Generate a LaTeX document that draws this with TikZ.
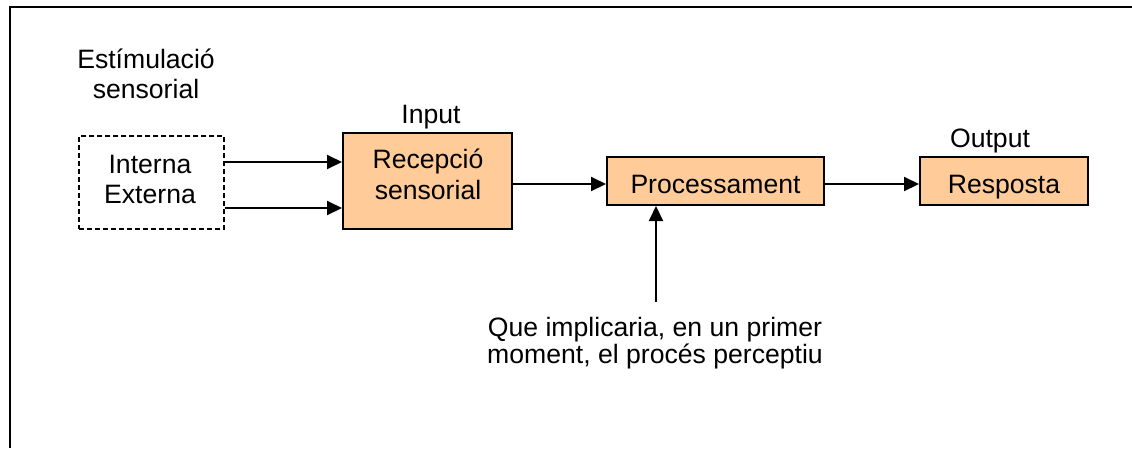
\documentclass[tikz,border=0pt]{standalone}
\usepackage{fontspec}
\setmainfont{Liberation Sans}
\usetikzlibrary{arrows.meta}
\definecolor{peach}{HTML}{FFCC99}
\begin{document}
\begin{tikzpicture}[x=1pt,y=-1pt,
  font=\fontsize{26.6}{30}\selectfont,
  stagebox/.style={draw=black, fill=peach, line width=2pt, inner sep=0pt, text height=24pt, text depth=0pt},
  sourcebox/.style={draw=black, line width=1.3pt, dash pattern=on 5pt off 3pt, inner sep=0pt},
  flow/.style={line width=2pt, -{Triangle[length=15pt,width=14pt]}},
  caption/.style={inner sep=0pt, anchor=base}]
  \useasboundingbox (0,0) rectangle (1132,448);
  % page frame
  \draw[line width=2pt] (9,7) -- (1132,7);
  \draw[line width=1.2pt] (10,7) -- (10,448);

  % boxes
  \node[sourcebox, minimum width=145pt, minimum height=93pt] (src) at (151.5,182.5) {};
  \node[stagebox, minimum width=169pt, minimum height=96pt] (rec) at (427.5,181) {};
  \node[stagebox, minimum width=217pt, minimum height=48pt] (proc) at (715.5,181) {Processament};
  \node[stagebox, minimum width=168pt, minimum height=48pt] (resp) at (1004,181) {Resposta};

  % box texts
  \node[caption] (src1) at (150,173) {Interna};
  \node[caption] (src2) at (150,203) {Externa};
  \node[caption] (rec1) at (428,168) {Recepció};
  \node[caption] (rec2) at (428,199) {sensorial};

  % labels
  \node[caption] (est1) at (146,68) {Estímulació};
  \node[caption] (est2) at (146,98) {sensorial};
  \node[caption] (inp) at (431,123) {Input};
  \node[caption] (outp) at (990,147) {Output};
  \node[caption] (q1) at (655,336) {Que implicaria, en un primer};
  \node[caption] (q2) at (655,363) {moment, el procés perceptiu};
  \coordinate (qtop) at (656,302);

  % connectors
  \draw[flow] (src.east |- 0,162) -- (rec.west |- 0,162);
  \draw[flow] (src.east |- 0,208) -- (rec.west |- 0,208);
  \draw[flow] (rec.east |- 0,184) -- (proc.west |- 0,184);
  \draw[flow] (proc.east |- 0,184) -- (resp.west |- 0,184);
  \draw[flow] (qtop) -- (qtop |- proc.south);
\end{tikzpicture}
\end{document}
